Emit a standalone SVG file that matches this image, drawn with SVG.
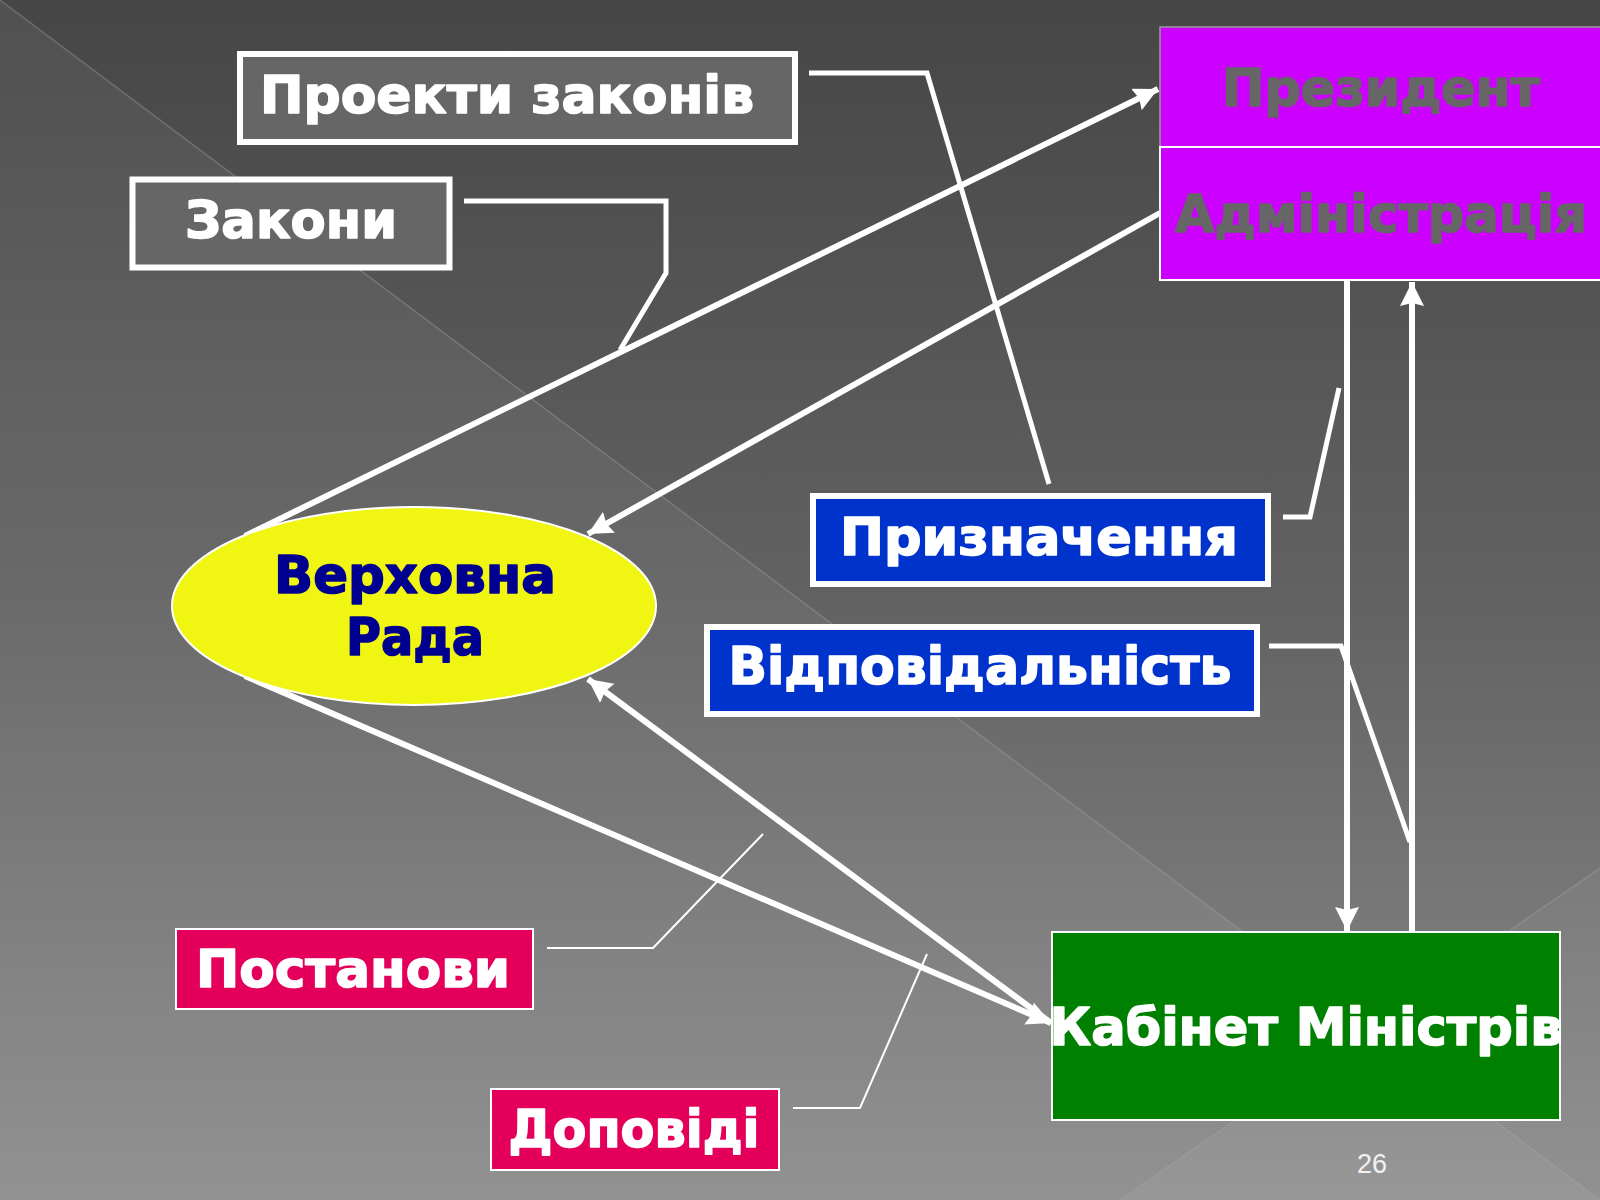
<svg xmlns="http://www.w3.org/2000/svg" width="1600" height="1200" viewBox="0 0 1600 1200">
  <defs>
    <linearGradient id="bg" x1="0" y1="0" x2="0" y2="1">
      <stop offset="0" stop-color="#464646"/>
      <stop offset="0.5" stop-color="#626262"/>
      <stop offset="1" stop-color="#8c8c8c"/>
    </linearGradient>
    <marker id="arr" markerUnits="userSpaceOnUse" markerWidth="26" markerHeight="26" refX="24" refY="12" orient="auto">
      <path d="M0,0 L24,12 L0,24 L3,12 z" fill="#ffffff"/>
    </marker>
    <style>
      .lbl { font-family: "DejaVu Sans", "Liberation Sans", sans-serif; font-weight: bold; font-size: 52px; text-anchor: middle; stroke-width: 1.6; stroke-linejoin: round; }
      .w { fill: #ffffff; stroke: #ffffff; }
      .g { fill: #666666; stroke: #666666; }
      .navy { fill: #000090; stroke: #000090; }
      .boxW { stroke: #ffffff; stroke-width: 6; }
      .thinW { stroke: #ffffff; stroke-width: 2; }
      .conn { fill: none; stroke: #ffffff; stroke-linejoin: miter; }
      .arrow { stroke: #ffffff; stroke-width: 6; fill: none; }
      .bgline { stroke: #a8a8a8; stroke-opacity: 0.35; stroke-width: 1.5; fill: none; }
    </style>
  </defs>

  <!-- background -->
  <rect x="0" y="0" width="1600" height="1200" fill="url(#bg)"/>
  <polygon points="0,0 1600,1200 0,1200" fill="#ffffff" fill-opacity="0.055"/>
  <polygon points="1600,868 1600,1200 1120,1200" fill="#ffffff" fill-opacity="0.05"/>
  <line class="bgline" x1="0" y1="0" x2="1600" y2="1200"/>
  <line class="bgline" x1="1600" y1="868" x2="1120" y2="1200"/>

  <!-- connectors -->
  <g id="connectors">
    <polyline class="conn" stroke-width="5" points="809,73 927,73 1049,484"/>
    <polyline class="conn" stroke-width="5" points="464,201 666,201 666,273 620,350"/>
    <line class="arrow" x1="245" y1="536" x2="1158" y2="89" marker-end="url(#arr)"/>
    <line class="arrow" x1="1160" y1="213" x2="588" y2="534" marker-end="url(#arr)"/>
    <line class="arrow" x1="245" y1="676" x2="1051" y2="1023" marker-end="url(#arr)"/>
    <line class="arrow" x1="1051" y1="1023" x2="588" y2="679" marker-end="url(#arr)"/>
    <line class="arrow" x1="1347" y1="281" x2="1347" y2="931" marker-end="url(#arr)"/>
    <line class="arrow" x1="1412" y1="932" x2="1412" y2="282" marker-end="url(#arr)"/>
    <polyline class="conn" stroke-width="5" points="1283,517 1310,517 1339,388"/>
    <polyline class="conn" stroke-width="5" points="1269,646 1341,646 1410,842"/>
    <polyline class="conn" stroke-width="2" points="547,948 653,948 763,834"/>
    <polyline class="conn" stroke-width="2" points="793,1108 860,1108 927,954"/>
  </g>

  <g id="proekty">
    <rect class="boxW" x="240" y="54" width="555" height="88" fill="#666666"/>
    <text class="lbl w" x="507" y="113" textLength="494" lengthAdjust="spacingAndGlyphs">Проекти  законів</text>
  </g>

  <g id="zakony">
    <rect class="boxW" x="132.5" y="179.5" width="317" height="88" fill="#666666" stroke-width="5"/>
    <text class="lbl w" x="291" y="238" textLength="212" lengthAdjust="spacingAndGlyphs">Закони</text>
  </g>

  <g id="president">
    <rect x="1160" y="27" width="445" height="120" fill="#cc00ff" stroke="#9a9a9a" stroke-width="1.5"/>
    <text class="lbl g" x="1381" y="106" textLength="318" lengthAdjust="spacingAndGlyphs">Президент</text>
  </g>

  <g id="administration">
    <rect class="thinW" x="1160" y="147" width="445" height="133" fill="#cc00ff"/>
    <text class="lbl g" x="1381" y="232" textLength="412" lengthAdjust="spacingAndGlyphs">Адміністрація</text>
  </g>

  <g id="rada">
    <ellipse cx="414" cy="606" rx="242" ry="99" fill="#f0f511" stroke="#ffffff" stroke-width="2"/>
    <text class="lbl navy" x="415" y="593" textLength="282" lengthAdjust="spacingAndGlyphs">Верховна</text>
    <text class="lbl navy" x="415" y="655" textLength="138" lengthAdjust="spacingAndGlyphs">Рада</text>
  </g>

  <g id="pryznachennia">
    <rect class="boxW" x="813" y="496" width="455" height="88" fill="#0033cc"/>
    <text class="lbl w" x="1039" y="555" textLength="398" lengthAdjust="spacingAndGlyphs">Призначення</text>
  </g>

  <g id="vidpovidalnist">
    <rect class="boxW" x="707" y="627" width="550" height="87" fill="#0033cc"/>
    <text class="lbl w" x="980" y="684" textLength="503" lengthAdjust="spacingAndGlyphs">Відповідальність</text>
  </g>

  <g id="kabinet">
    <rect class="thinW" x="1052" y="932" width="508" height="188" fill="#008000"/>
    <text class="lbl w" x="1306" y="1045" textLength="513" lengthAdjust="spacingAndGlyphs">Кабінет Міністрів</text>
  </g>

  <g id="postanovy">
    <rect class="thinW" x="176" y="929" width="357" height="80" fill="#e4005a"/>
    <text class="lbl w" x="353" y="987" textLength="314" lengthAdjust="spacingAndGlyphs">Постанови</text>
  </g>

  <g id="dopovidi">
    <rect class="thinW" x="491" y="1089" width="288" height="81" fill="#e4005a"/>
    <text class="lbl w" x="634" y="1147" textLength="251" lengthAdjust="spacingAndGlyphs">Доповіді</text>
  </g>

  <text x="1372" y="1173" font-family="Liberation Sans, Arial, sans-serif" font-size="27" fill="#f2f2f2" text-anchor="middle">26</text>
</svg>
